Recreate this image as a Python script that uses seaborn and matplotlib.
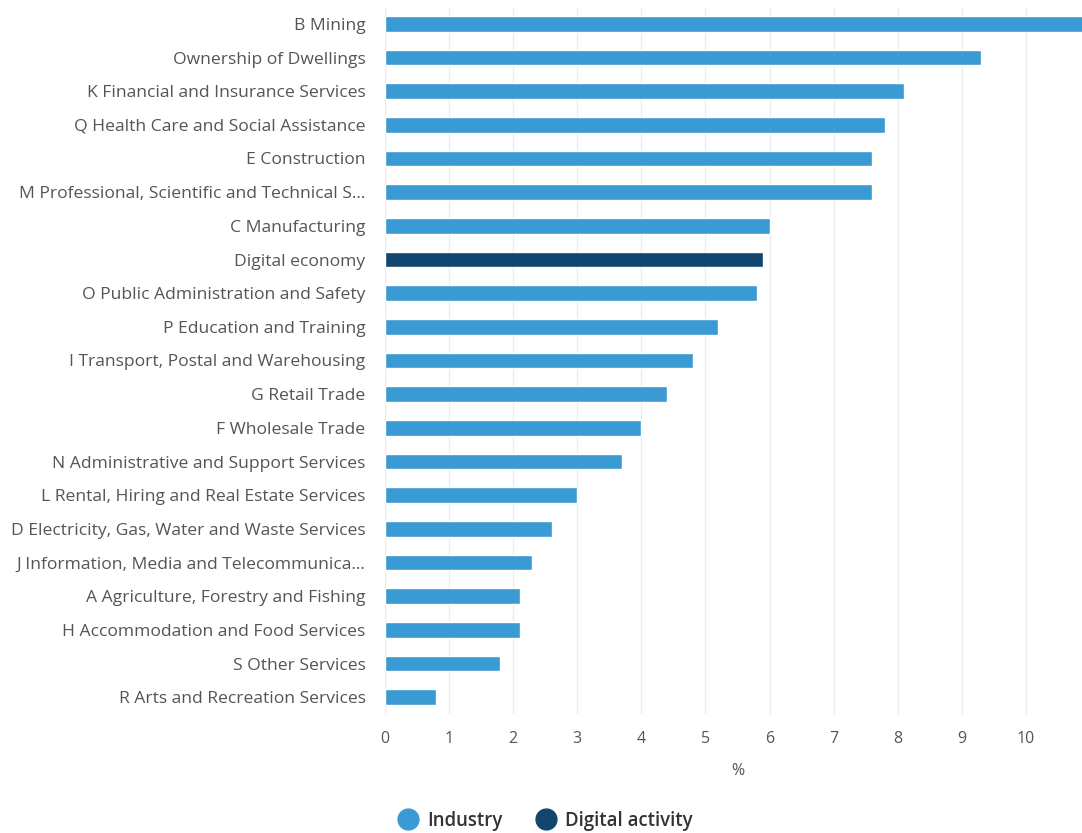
import matplotlib
matplotlib.use("Agg")
import matplotlib.pyplot as plt
from matplotlib.lines import Line2D
import seaborn as sns
import pandas as pd

industries = [
    "B Mining",
    "Ownership of Dwellings",
    "K Financial and Insurance Services",
    "Q Health Care and Social Assistance",
    "E Construction",
    "M Professional, Scientific and Technical S...",
    "C Manufacturing",
    "Digital economy",
    "O Public Administration and Safety",
    "P Education and Training",
    "I Transport, Postal and Warehousing",
    "G Retail Trade",
    "F Wholesale Trade",
    "N Administrative and Support Services",
    "L Rental, Hiring and Real Estate Services",
    "D Electricity, Gas, Water and Waste Services",
    "J Information, Media and Telecommunica...",
    "A Agriculture, Forestry and Fishing",
    "H Accommodation and Food Services",
    "S Other Services",
    "R Arts and Recreation Services",
]
values = [11.2, 9.3, 8.1, 7.8, 7.6, 7.6, 6.0, 5.9, 5.8, 5.2, 4.8,
          4.4, 4.0, 3.7, 3.0, 2.6, 2.3, 2.1, 2.1, 1.8, 0.8]
groups = ["Industry"] * 7 + ["Digital activity"] + ["Industry"] * 13
x_ticks = list(range(0, 12))

colors = {"Industry": "#3a9ad3", "Digital activity": "#12466e"}
text_color = "#555555"

df = pd.DataFrame({"industry": industries, "value": values, "group": groups})

sns.set_theme(style="white")
plt.rcParams["font.family"] = ["Open Sans", "DejaVu Sans"]

fig = plt.figure(figsize=(10.82, 8.33), dpi=100)
# axis deliberately runs past the right edge of the canvas
ax = fig.add_axes([385 / 1082, 1 - 714 / 833, 705 / 1082, (714 - 7) / 833])

sns.barplot(data=df, y="industry", x="value", hue="group", dodge=False,
            palette=colors, width=0.47, ax=ax, legend=False, saturation=1,
            order=industries)

ax.set_xlim(0, 11)
ax.set_xticks(x_ticks)
ax.set_xticklabels([str(t) for t in x_ticks])
ax.xaxis.grid(True, color="#ececec", linewidth=1)
ax.set_axisbelow(True)
for s in ax.spines.values():
    s.set_visible(False)
ax.tick_params(axis="both", length=0, colors=text_color)
ax.tick_params(axis="y", pad=14, labelsize=12.6)
ax.tick_params(axis="x", pad=12, labelsize=11.5)
ax.set_ylabel("")
ax.set_xlabel("%", color=text_color, fontsize=11.5, labelpad=12)

handles = [Line2D([0], [0], marker="o", linestyle="", markersize=15,
                  markerfacecolor=colors[k], markeredgecolor=colors[k])
           for k in ["Industry", "Digital activity"]]
leg = fig.legend(handles, ["Industry", "Digital activity"], loc="center",
                 bbox_to_anchor=(541 / 1082, 1 - 821 / 833), ncol=2,
                 frameon=False, handletextpad=0.0, columnspacing=1.35,
                 prop={"size": 13.4, "weight": "semibold"})
for t in leg.get_texts():
    t.set_color("#333333")

fig.savefig("out.png", dpi=100)
